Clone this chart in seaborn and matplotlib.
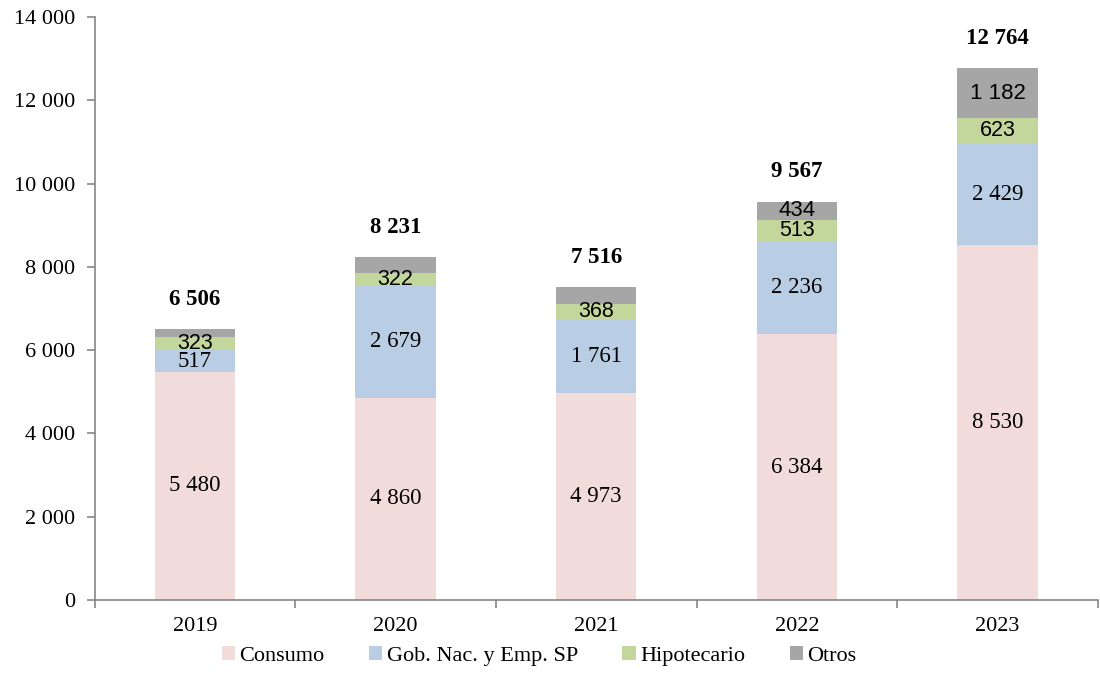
import matplotlib
matplotlib.use("Agg")
import matplotlib.pyplot as plt
import matplotlib.ticker as mticker
import pandas as pd
import seaborn as sns
from matplotlib.patches import Patch

years = ["2019", "2020", "2021", "2022", "2023"]
consumo = [5480, 4860, 4973, 6384, 8530]
gob = [517, 2679, 1761, 2236, 2429]
hipotecario = [323, 322, 368, 513, 623]
otros = [186, 370, 414, 434, 1182]
totals = [6506, 8231, 7516, 9567, 12764]
show_otros = [False, False, False, True, True]

series = ["Consumo", "Gob. Nac. y Emp. SP", "Hipotecario", "Otros"]
colors = ["#F2DCDB", "#B9CDE5", "#C3D69B", "#A6A6A6"]


def fmt(v):
    return f"{v:,}".replace(",", " ")


sns.set_theme(style="white")
plt.rcParams["font.family"] = ["Liberation Serif", "DejaVu Serif"]
plt.rcParams["text.color"] = "#000000"

df = pd.DataFrame({"year": years, "Consumo": consumo, "Gob": gob,
                   "Hipotecario": hipotecario, "Otros": otros})
df["c1"] = df["Consumo"]
df["c2"] = df["c1"] + df["Gob"]
df["c3"] = df["c2"] + df["Hipotecario"]
df["c4"] = df["c3"] + df["Otros"]

fig = plt.figure(figsize=(11, 6.78), dpi=100)
ax = fig.add_axes([0.086, 0.115, 0.912, 0.86])

# draw cumulative stacks from the top down so each layer shows its own band
for col, color in zip(["c4", "c3", "c2", "c1"], colors[::-1]):
    sns.barplot(data=df, x="year", y=col, color=color, width=0.4,
                saturation=1, ax=ax, linewidth=0)

sans = ["Liberation Sans", "DejaVu Sans"]
for i in range(len(years)):
    c1, c2, c3, c4 = df.loc[i, ["c1", "c2", "c3", "c4"]]
    ax.text(i, c1 / 2, fmt(consumo[i]), ha="center", va="center", fontsize=16.5)
    ax.text(i, (c1 + c2) / 2, fmt(gob[i]), ha="center", va="center",
            fontsize=16.5)
    ax.text(i, (c2 + c3) / 2, fmt(hipotecario[i]), ha="center", va="center",
            fontsize=15.5, family=sans)
    if show_otros[i]:
        ax.text(i, (c3 + c4) / 2, fmt(otros[i]), ha="center", va="center",
                fontsize=16, family=sans)
    ax.text(i, totals[i] + 720, fmt(totals[i]), ha="center", va="center",
            fontsize=16.5, fontweight="bold")

ax.set_ylim(0, 14000)
ax.set_xlim(-0.5, 4.5)
ax.yaxis.set_major_locator(mticker.MultipleLocator(2000))
ax.yaxis.set_major_formatter(mticker.FuncFormatter(lambda v, p: fmt(int(v))))
ax.set_xlabel("")
ax.set_ylabel("")

for s in ["top", "right"]:
    ax.spines[s].set_visible(False)
for s in ["left", "bottom"]:
    ax.spines[s].set_color("#868686")
    ax.spines[s].set_linewidth(1.2)

ax.set_xticks([-0.5, 0.5, 1.5, 2.5, 3.5, 4.5], minor=True)
ax.tick_params(axis="x", which="major", bottom=True, length=0, labelsize=16,
               pad=12, labelcolor="#000000")
ax.tick_params(axis="x", which="minor", bottom=True, length=6, width=1.2,
               color="#868686", direction="out")
ax.tick_params(axis="y", left=True, length=6, width=1.2, color="#868686",
               direction="out", labelsize=16, pad=8, labelcolor="#000000")

handles = [Patch(facecolor=c, edgecolor="none") for c in colors]
fig.legend(handles, series, loc="lower center", ncol=4, frameon=False,
           fontsize=16, bbox_to_anchor=(0.49, -0.012), handlelength=0.6,
           handleheight=0.6, handletextpad=0.2, columnspacing=2.0)

fig.savefig("out.png", dpi=100)
